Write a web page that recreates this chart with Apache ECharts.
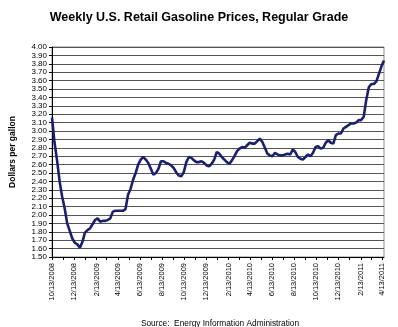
<!DOCTYPE html>
<html>
<head>
<meta charset="utf-8">
<script src="https://cdn.jsdelivr.net/npm/echarts@6/dist/echarts.min.js"></script>
<style>
html,body{margin:0;padding:0;background:#fff;}
#chart{width:398px;height:327px;}
</style>
</head>
<body>
<div id="chart"></div>
<script>
// Weekly series start (Mondays, one value per week)
const startDate = '10/13/2008';
const prices2008 = [3.16, 2.86, 2.65, 2.40, 2.22, 2.08, 1.90, 1.81, 1.72, 1.67, 1.65, 1.61];
const prices2009 = [1.68, 1.79, 1.82, 1.84, 1.89, 1.94, 1.96, 1.92, 1.93, 1.93, 1.94, 1.96, 2.04,
  2.05, 2.05, 2.05, 2.05, 2.07, 2.24, 2.31, 2.42, 2.50, 2.60, 2.66, 2.69, 2.66, 2.62, 2.55, 2.48,
  2.50, 2.55, 2.64, 2.64, 2.62, 2.61, 2.59, 2.56, 2.51, 2.47, 2.46, 2.51, 2.63, 2.69, 2.68, 2.65,
  2.63, 2.63, 2.64, 2.62, 2.59, 2.58, 2.61];
const prices2010 = [2.66, 2.75, 2.73, 2.69, 2.66, 2.63, 2.61, 2.65, 2.70, 2.76, 2.79, 2.81, 2.80,
  2.83, 2.86, 2.85, 2.85, 2.88, 2.91, 2.87, 2.80, 2.73, 2.71, 2.70, 2.74, 2.72, 2.71, 2.71, 2.72,
  2.73, 2.72, 2.78, 2.75, 2.69, 2.67, 2.66, 2.69, 2.72, 2.70, 2.74, 2.81, 2.82, 2.79, 2.80, 2.86,
  2.89, 2.86, 2.85, 2.95, 2.97, 2.97, 3.03];
const prices2011 = [3.05, 3.07, 3.09, 3.09, 3.10, 3.13, 3.13, 3.17, 3.37, 3.52, 3.56, 3.56, 3.59,
  3.68, 3.77, 3.84];

const tickLabels = ['10/13/2008', '12/13/2008', '2/13/2009', '4/13/2009', '6/13/2009', '8/13/2009',
  '10/13/2009', '12/13/2009', '2/13/2010', '4/13/2010', '6/13/2010', '8/13/2010', '10/13/2010',
  '12/13/2010', '2/13/2011', '4/13/2011'];
const minorTickDates = ['11/13/2008', '1/13/2009', '3/13/2009', '5/13/2009', '7/13/2009', '9/13/2009',
  '11/13/2009', '1/13/2010', '3/13/2010', '5/13/2010', '7/13/2010', '9/13/2010', '11/13/2010',
  '1/13/2011', '3/13/2011'];
const yMin = 1.5, yMax = 4.0, yStep = 0.1;

const titleText = 'Weekly U.S. Retail Gasoline Prices, Regular Grade';
const yName = 'Dollars per gallon';
const sourceText = 'Source:  Energy Information Administration';

function toUTC(s) { const p = s.split('/').map(Number); return Date.UTC(p[2], p[0] - 1, p[1]); }
const t0 = toUTC(startDate);
function dayOf(s) { return Math.round((toUTC(s) - t0) / 86400000); }

const prices = [].concat(prices2008, prices2009, prices2010, prices2011);
const seriesData = prices.map((v, i) => [i * 7, v]);
const lastDay = (prices.length - 1) * 7;

const labelDays = tickLabels.map(dayOf);
const labelMap = {};
labelDays.forEach((d, i) => labelMap[d] = tickLabels[i]);
const tickDays = labelDays.concat(minorTickDates.map(dayOf)).sort((a, b) => a - b);

const chart = echarts.init(document.getElementById('chart'), null, {renderer: 'canvas'});
chart.setOption({
  animation: false,
  backgroundColor: '#ffffff',
  title: [{
    text: titleText, left: 'center', top: 6,
    textStyle: {fontFamily: 'Liberation Sans, Arial', fontSize: 12.5, fontWeight: 'bold', color: '#000'}
  }, {
    text: sourceText, left: 215, top: 315, textAlign: 'center',
    textStyle: {fontFamily: 'Liberation Sans, Arial', fontSize: 8.3, fontWeight: 'normal', color: '#000'}
  }],
  grid: {left: 45, right: 14, top: 47, bottom: 70, show: true, borderColor: '#888', borderWidth: 1},
  xAxis: {
    type: 'value', min: 0, max: lastDay,
    axisLine: {show: true, onZero: false, lineStyle: {color: '#000', width: 1}},
    splitLine: {show: false},
    axisTick: {show: true, customValues: tickDays, length: 3, lineStyle: {color: '#000'}},
    axisLabel: {
      customValues: labelDays, rotate: 90, margin: 6,
      fontFamily: 'Liberation Sans, Arial', fontSize: 7.5, color: '#000',
      formatter: v => labelMap[v] || ''
    }
  },
  yAxis: {
    type: 'value', min: yMin, max: yMax, interval: yStep,
    name: yName, nameLocation: 'middle', nameGap: 35, nameRotate: 90,
    nameTextStyle: {fontFamily: 'Liberation Sans, Arial', fontSize: 8.5, fontWeight: 'bold', color: '#000'},
    axisLine: {show: true, lineStyle: {color: '#000', width: 1}},
    axisTick: {show: true, length: 3, lineStyle: {color: '#000'}},
    splitLine: {show: true, lineStyle: {color: '#555', width: 1}},
    axisLabel: {
      margin: 5, fontFamily: 'Liberation Sans, Arial', fontSize: 8, color: '#000',
      formatter: v => v.toFixed(2)
    }
  },
  series: [{
    type: 'line', data: seriesData, showSymbol: false, smooth: false,
    lineStyle: {color: '#1a1f70', width: 2.6}
  }]
});
</script>
</body>
</html>
